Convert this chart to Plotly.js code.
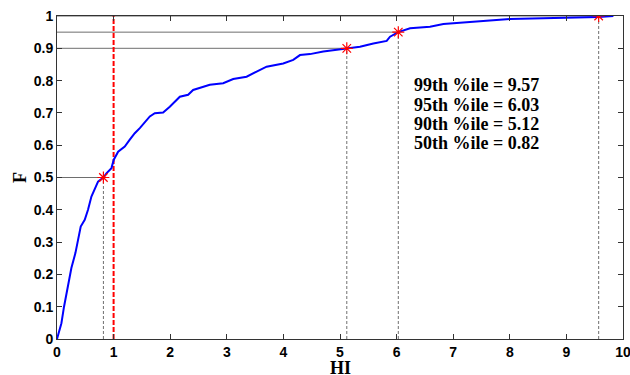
<!DOCTYPE html>
<html>
<head>
<meta charset="utf-8">
<script src="https://cdn.plot.ly/plotly-3.0.1.min.js"></script>
<style>html,body{margin:0;padding:0;background:#fff;}#chart{width:630px;height:375px;}</style>
</head>
<body>
<div id="chart"></div>
<script>
const hiValues = [0, 0.078, 0.124, 0.195, 0.254, 0.325, 0.419, 0.49, 0.548, 0.608, 0.667, 0.725, 0.82, 0.873, 0.962, 1.003, 1.08, 1.197, 1.286, 1.374, 1.463, 1.64, 1.728, 1.875, 1.993, 2.17, 2.317, 2.405, 2.70, 2.936, 3.113, 3.35, 3.527, 3.703, 3.997, 4.174, 4.293, 4.47, 4.705, 5.12, 5.353, 5.589, 5.825, 5.884, 6.03, 6.238, 6.59, 6.827, 7.127, 7.3, 7.66, 8.0, 8.59, 9.01, 9.57, 9.83];
const cdfValues = [0, 0.049, 0.10, 0.163, 0.22, 0.266, 0.348, 0.369, 0.40, 0.441, 0.462, 0.487, 0.50, 0.513, 0.529, 0.555, 0.58, 0.596, 0.617, 0.637, 0.653, 0.689, 0.699, 0.701, 0.719, 0.75, 0.756, 0.771, 0.787, 0.792, 0.805, 0.812, 0.828, 0.843, 0.853, 0.864, 0.879, 0.882, 0.890, 0.90, 0.905, 0.915, 0.923, 0.936, 0.95, 0.962, 0.967, 0.975, 0.979, 0.982, 0.988, 0.991, 0.993, 0.994, 0.997, 1.0];

// Percentile markers
const pctLabels = ["99th", "95th", "90th", "50th"];
const pctHI = [9.57, 6.03, 5.12, 0.82];
const pctF = [1.0, 0.95, 0.9, 0.5];

// Threshold line
const thresholdHI = 1;

// Axis ticks
const xTicks = [0,1,2,3,4,5,6,7,8,9,10];
const yTicks = [0,0.1,0.2,0.3,0.4,0.5,0.6,0.7,0.8,0.9,1];

const serif = '"Liberation Serif", "Times New Roman", serif';

const traces = [];
// horizontal reference lines (solid grey)
pctHI.forEach((h, i) => {
  traces.push({x:[0, h], y:[pctF[i], pctF[i]], mode:'lines', line:{color:'#6e6e6e', width:1}, hoverinfo:'skip', showlegend:false});
});
// vertical dashed drop lines
pctHI.forEach((h, i) => {
  traces.push({x:[h, h], y:[0, pctF[i]], mode:'lines', line:{color:'#707070', width:1, dash:'3px,2px'}, hoverinfo:'skip', showlegend:false});
});
// red threshold line
traces.push({x:[thresholdHI, thresholdHI], y:[0, 1], mode:'lines', line:{color:'#ff0000', width:2, dash:'5px,2px'}, showlegend:false});
// CDF curve
traces.push({x:hiValues, y:cdfValues, mode:'lines', line:{color:'#0000ff', width:2}, showlegend:false});
// markers
traces.push({x:pctHI, y:pctF, mode:'markers', marker:{symbol:'asterisk-open', size:10, color:'#ff0000', line:{color:'#ff0000', width:1.2}}, showlegend:false});

const annY = [0.787, 0.726, 0.667, 0.607];
const annotations = pctLabels.map((lab, i) => ({
  x: 6.27, y: annY[i], xref:'x', yref:'y', xanchor:'left', yanchor:'middle', showarrow:false,
  text: '<b>' + lab + ' %ile = ' + pctHI[i].toFixed(2) + '</b>',
  font:{family:serif, size:18, color:'#000'}
}));
// x-axis title placed just below tick labels
annotations.push({x:0.5, y:-0.052, xref:'paper', yref:'paper', xanchor:'center', yanchor:'top', showarrow:false,
  text:'<b>HI</b>', font:{family:serif, size:18, color:'#000'}});

const axisCommon = {
  showgrid:false, zeroline:false, showline:true, mirror:'ticks', linecolor:'#333', linewidth:1,
  ticks:'inside', ticklen:5, tickcolor:'#333', tickwidth:1, ticklabeloverflow:'allow',
  tickfont:{family:'"Liberation Sans", Arial, sans-serif', size:14, color:'#000'}
};

const layout = {
  width:630, height:375,
  margin:{l:57, r:7, t:16, b:36},
  paper_bgcolor:'#fff', plot_bgcolor:'#fff',
  xaxis: Object.assign({}, axisCommon, {range:[0,10], tickvals:xTicks, ticktext:xTicks.map(v => '<b>' + v + '</b>')}),
  yaxis: Object.assign({}, axisCommon, {range:[0,1], tickvals:yTicks, ticktext:yTicks.map(v => '<b>' + v + '</b>'),
    title:{text:'<b>F</b>', font:{family:serif, size:18, color:'#000'}, standoff:2}}),
  annotations: annotations,
  showlegend:false
};

Plotly.newPlot('chart', traces, layout, {displayModeBar:false, staticPlot:true});
</script>
</body>
</html>
